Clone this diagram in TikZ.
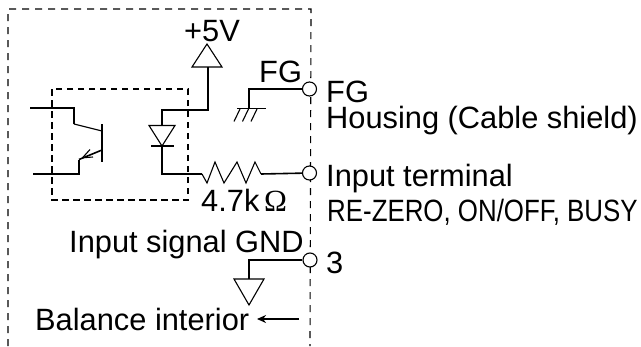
\documentclass[tikz,border=0pt]{standalone}
\usepackage{fontspec}
\setmainfont{Liberation Sans}
\newfontfamily\serifomega{Liberation Serif}
\usetikzlibrary{arrows.meta}
\tikzset{
  wire/.style={line width=1.6pt,line join=miter},
  thinwire/.style={line width=1.1pt},
  outerbox/.style={line width=1.1pt,dash pattern=on 7pt off 6pt},
  innerbox/.style={line width=1.6pt,dash pattern=on 6.5pt off 4.5pt},
  term/.style={circle,draw,fill=white,line width=1.1pt,minimum size=14pt,inner sep=0pt},
  lab/.style={anchor=base west,inner sep=0pt,font=\fontsize{30.8}{30.8}\selectfont},
}
\begin{document}
\begin{tikzpicture}[x=1pt,y=-1pt]
\useasboundingbox (0,0) rectangle (641,346);
% frames
\coordinate (oa) at (8,346);
\coordinate (ob) at (8,9);
\coordinate (oc) at (311,9);
\coordinate (od) at (310,346);
\draw[outerbox] (oa) -- (ob) -- (oc) -- (od);
\coordinate (ia) at (52,89);
\coordinate (ib) at (188,200);
\draw[innerbox] (ia) rectangle (ib);
% terminals
\node[term] (tfg) at (309.5,89) {};
\node[term] (tin) at (309.5,173) {};
\node[term] (tgnd) at (310,260) {};
% transistor
\coordinate (c0) at (30,108);
\coordinate (c1) at (74,108);
\coordinate (c2) at (74,124);
\coordinate (c3) at (102,131);
\coordinate (bt) at (102,124);
\coordinate (bb) at (102,162);
\coordinate (e0) at (102,150);
\coordinate (e1) at (79,159.5);
\coordinate (e2) at (79,174);
\coordinate (e3) at (33,174);
\draw[wire] (c0) -- (c1) -- (c2);
\draw[thinwire] (c2) -- (c3);
\draw[wire] (bt) -- (bb);
\draw[wire] (e0) -- (e1);
\draw[wire] (e1) -- (e2) -- (e3);
\coordinate (ah) at (82.5,157.8);
\coordinate (al1) at (90,149.5);
\coordinate (al2) at (93,157);
\draw[line width=1.1pt] (al1) -- (ah) -- (al2);
% diode and supply
\coordinate (vt) at (207,44);
\coordinate (vl) at (192,67);
\coordinate (vr) at (222,67);
\coordinate (vb) at (208,67);
\coordinate (vj) at (208,110);
\coordinate (dt) at (162,110);
\coordinate (da) at (162,125.5);
\coordinate (dl) at (149,125.5);
\coordinate (dr) at (175,125.5);
\coordinate (dk) at (162,146);
\coordinate (kl) at (151,146);
\coordinate (kr) at (174,146);
\coordinate (dj) at (162,174);
\coordinate (r0) at (202,174);
\draw[thinwire,line join=miter] (vt) -- (vl) -- (vr) -- cycle;
\draw[wire] (vb) -- (vj) -- (dt) -- (da);
\draw[thinwire] (dl) -- (dr) -- (dk) -- cycle;
\draw[wire] (kl) -- (kr);
\draw[wire] (dk) -- (dj) -- (r0);
% resistor
\coordinate (r1) at (207,183);
\coordinate (r2) at (215,162);
\coordinate (r3) at (224,183);
\coordinate (r4) at (237,162);
\coordinate (r5) at (246,183);
\coordinate (r6) at (255,162);
\coordinate (r7) at (261,174);
\draw[thinwire] (r0) -- (r1) -- (r2) -- (r3) -- (r4) -- (r5) -- (r6) -- (r7);
\draw[wire] (r7) -- (tin);
% frame ground
\coordinate (fj) at (249,89);
\coordinate (fb) at (249,108.5);
\coordinate (fl) at (237,108.5);
\coordinate (fr) at (266,108.5);
\draw[wire] (tfg) -- (fj) -- (fb);
\draw[wire] (fl) -- (fr);
\foreach \n/\x in {h1/240,h2/248.5,h3/257}{
  \coordinate (\n a) at (\x,109);
  \coordinate (\n b) at (\x-6,121.5);
  \draw[thinwire] (\n a) -- (\n b);
}
% signal ground
\coordinate (gj) at (249,260);
\coordinate (gb) at (249,279);
\coordinate (gl) at (234,279);
\coordinate (gr) at (264,279);
\coordinate (gt) at (249,305);
\draw[wire] (tgnd) -- (gj) -- (gb);
\draw[thinwire] (gl) -- (gr) -- (gt) -- cycle;
% arrow
\coordinate (ar0) at (299,319);
\coordinate (ar1) at (257,319);
\draw[wire,-{Stealth[length=9pt,width=8pt]}] (ar0) -- (ar1);
% labels
\node[lab] (l5v) at (184,41) {+5V};
\node[lab] (lfg) at (259,82) {FG};
\node[lab] (lfg2) at (326,102) {FG};
\node[lab] (lhs) at (326,128) {Housing (Cable shield)};
\node[lab] (lit) at (326,186) {Input terminal};
\node[lab] (lre) at (327,221) {\scalebox{0.84}[1]{RE-ZERO, ON/OFF, BUSY}};
\node[lab] (l3) at (326,273) {3};
\node[lab] (lr) at (201,211) {4.7k};
\node[lab] (lo) at (264,211) {\serifomega Ω};
\node[lab] (lsg) at (69,252) {Input signal GND};
\node[lab] (lbi) at (35,330) {Balance interior};
\end{tikzpicture}
\end{document}
